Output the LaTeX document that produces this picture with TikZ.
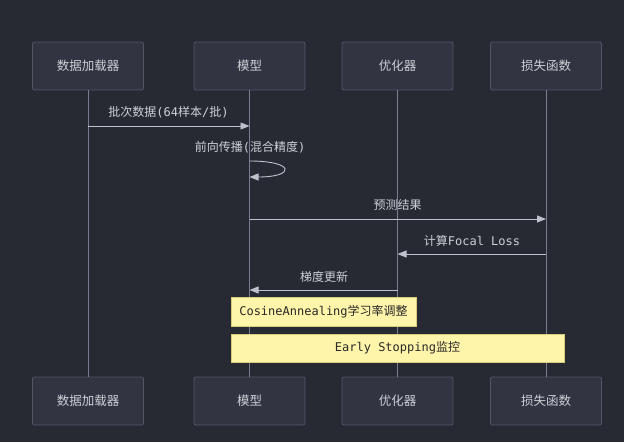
\documentclass[tikz,border=0pt]{standalone}
\usepackage{fontspec}
\usetikzlibrary{arrows.meta,calc}
\newfontfamily\cjk{Noto Sans CJK SC}
\newfontfamily\mn{DejaVu Sans Mono}
\definecolor{bg}{RGB}{40,42,51}
\definecolor{boxfill}{RGB}{50,53,65}
\definecolor{boxline}{RGB}{82,87,103}
\definecolor{boxtext}{RGB}{204,207,214}
\definecolor{lifeline}{RGB}{120,126,143}
\definecolor{msgline}{RGB}{190,194,204}
\definecolor{msgtext}{RGB}{205,208,214}
\definecolor{notefill}{RGB}{255,245,170}
\definecolor{noteline}{RGB}{215,205,120}
\definecolor{notetext}{RGB}{40,40,40}
\begin{document}
\begin{tikzpicture}[x=1pt,y=-1pt,
  actor/.style={draw=boxline,fill=boxfill,rounded corners=2pt,line width=0.8pt,
    minimum width=111pt,minimum height=48pt,inner sep=0pt,
    font=\cjk\fontsize{12.5}{14}\selectfont,text=boxtext},
  life/.style={draw=lifeline,line width=0.9pt},
  msg/.style={draw=msgline,line width=0.9pt,-{Triangle[length=9pt,width=7pt]}},
  lbl/.style={text=msgtext,font=\cjk\fontsize{12}{14}\selectfont,inner sep=0pt},
  note/.style={draw=noteline,fill=notefill,line width=0.6pt,inner sep=0pt,
    text=notetext,font=\cjk\fontsize{12}{14}\selectfont}]
\fill[bg] (0,0) rectangle (624,442);
\useasboundingbox (0,0) rectangle (624,442);
% top actors
\node[actor] (dl) at (88,66) {数据加载器};
\node[actor] (md) at (249.5,66) {模型};
\node[actor] (op) at (397.5,66) {优化器};
\node[actor] (lf) at (546,66) {损失函数};
% bottom actors
\node[actor] (dlb) at (88,401) {数据加载器};
\node[actor] (mdb) at (249.5,401) {模型};
\node[actor] (opb) at (397.5,401) {优化器};
\node[actor] (lfb) at (546,401) {损失函数};
% lifelines
\draw[life] (dl.south) -- (dlb.north);
\draw[life] (md.south) -- (mdb.north);
\draw[life] (op.south) -- (opb.north);
\draw[life] (lf.south) -- (lfb.north);
% message points
\coordinate (a1) at (dl.south |- 0,126);
\coordinate (b1) at (md.south |- 0,126);
\coordinate (s1) at (md.south |- 0,161);
\coordinate (s2) at (md.south |- 0,177);
\coordinate (b3) at (md.south |- 0,219);
\coordinate (d3) at (lf.south |- 0,219);
\coordinate (d4) at (lf.south |- 0,254);
\coordinate (c4) at (op.south |- 0,254);
\coordinate (c5) at (op.south |- 0,290);
\coordinate (b5) at (md.south |- 0,290);
% messages
\draw[msg] (a1) -- (b1);
\node[lbl] (t1) at (168.5,112) {批次数据{\mn(64}样本{\mn/}批{\mn)}};
\draw[msg] (s1) .. controls +(46,0) and +(46,0) .. (s2);
\node[lbl] (t2) at (250,147) {前向传播{\mn(}混合精度{\mn)}};
\draw[msg] (b3) -- (d3);
\node[lbl] (t3) at (397.5,205) {预测结果};
\draw[msg] (d4) -- (c4);
\node[lbl] (t4) at (472,241) {计算{\mn Focal Loss}};
\draw[msg] (c5) -- (b5);
\node[lbl] (t5) at (324,276.5) {梯度更新};
% notes
\node[note,minimum width=185pt,minimum height=29pt] (n1) at (323.5,311.5) {{\mn CosineAnnealing}学习率调整};
\node[note,minimum width=333pt,minimum height=28pt] (n2) at (397.5,348) {{\mn Early Stopping}监控};
\end{tikzpicture}
\end{document}
